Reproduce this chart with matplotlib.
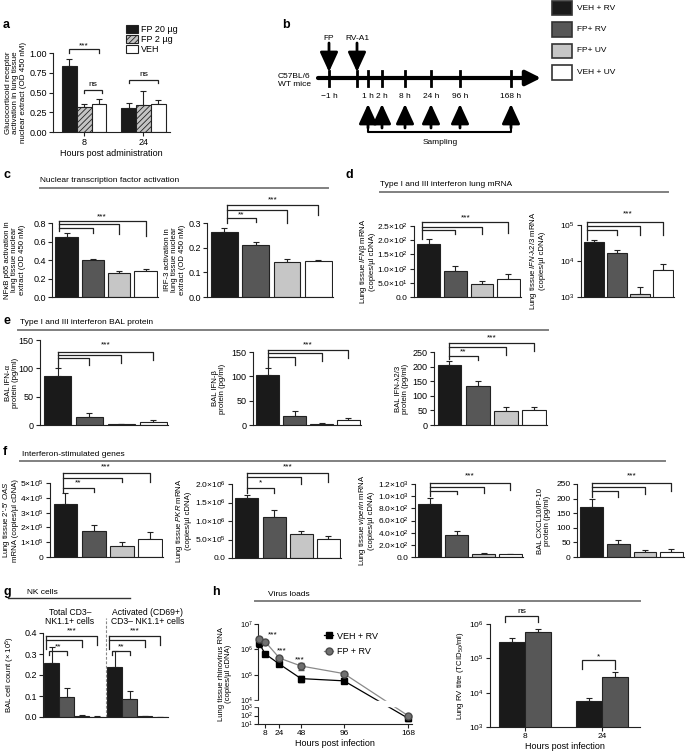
"""Multi-panel figure: glucocorticoid / interferon / virus load panels a-h."""
import numpy as np
import matplotlib
matplotlib.use("Agg")
import matplotlib.pyplot as plt
from matplotlib.lines import Line2D
from matplotlib.patches import Rectangle, Patch
from matplotlib.ticker import NullLocator

plt.rcParams["font.family"] = ["Liberation Sans", "DejaVu Sans"]
plt.rcParams["mathtext.fontset"] = "custom"
plt.rcParams["mathtext.rm"] = "Liberation Sans"
plt.rcParams["mathtext.it"] = "Liberation Sans:italic"
plt.rcParams["mathtext.bf"] = "Liberation Sans:bold"
plt.rcParams["hatch.linewidth"] = 0.6

# ---------------- data ----------------
A_HOURS = ["8", "24"]
A_TREAT = ["FP 20 µg", "FP 2 µg", "VEH"]
A_FP20 = [0.83, 0.30]
A_FP20_SEM = [0.10, 0.07]
A_FP2 = [0.32, 0.34]
A_FP2_SEM = [0.04, 0.18]
A_VEH = [0.35, 0.35]
A_VEH_SEM = [0.07, 0.06]

GROUPS = ["VEH + RV", "FP+ RV", "FP+ UV", "VEH + UV"]
TIMELINE = ["\u22121 h", "1 h", "2 h", "8 h", "24 h", "96 h", "168 h"]

NFKB = [0.65, 0.40, 0.26, 0.28]
NFKB_SEM = [0.04, 0.01, 0.02, 0.02]
IRF3 = [0.265, 0.21, 0.143, 0.145]
IRF3_SEM = [0.014, 0.015, 0.010, 0.007]
IFNB_MRNA = [185, 91, 46, 65]
IFNB_MRNA_SEM = [20, 19, 10, 15]
IFNL_MRNA = [3.3e4, 1.65e4, 1.2e3, 5.5e3]
IFNL_MRNA_SEM = [0.5e4, 0.4e4, 0.65e3, 2.7e3]
IFNA_BAL = [87, 15, 1.8, 4.5]
IFNA_BAL_SEM = [14, 6, 0.6, 4]
IFNB_BAL = [102, 19, 2.5, 10]
IFNB_BAL_SEM = [16, 10, 1.5, 4]
IFNL_BAL = [206, 134, 49, 52]
IFNL_BAL_SEM = [14, 16, 12, 11]
OAS = [3.55e5, 1.77e5, 0.74e5, 1.2e5]
OAS_SEM = [0.8e5, 0.4e5, 0.3e5, 0.5e5]
PKR = [1.61e6, 1.12e6, 0.66e6, 0.52e6]
PKR_SEM = [0.09e6, 0.17e6, 0.07e6, 0.08e6]
VIPERIN = [875, 365, 55, 42]
VIPERIN_SEM = [100, 60, 18, 10]
CXCL10 = [172, 46, 18, 17]
CXCL10_SEM = [27, 12, 7, 11]
NK_TOTAL = [0.255, 0.095, 0.007, 0.002]
NK_TOTAL_SEM = [0.08, 0.042, 0.004, 0.001]
NK_ACT = [0.238, 0.085, 0.005, 0.001]
NK_ACT_SEM = [0.077, 0.040, 0.002, 0.001]

H_TIME = [1, 8, 24, 48, 96, 168]
VIRUS_VEH = [1.8e6, 6.6e5, 2.6e5, 7.0e4, 5.7e4, 45]
VIRUS_VEH_SEM = [6e5, 6e4, 3e4, 2e4, 5e3, 20]
VIRUS_FP = [2.5e6, 2.0e6, 4.5e5, 2.2e5, 1.1e5, 90]
VIRUS_FP_SEM = [7e5, 2e5, 5e4, 7e4, 1.5e4, 15]
TITRE_HOURS = ["8", "24"]
TITRE_VEH = [3.0e5, 5.7e3]
TITRE_VEH_SEM = [0.8e5, 1.5e3]
TITRE_FP = [5.7e5, 2.9e4]
TITRE_FP_SEM = [1.3e5, 1.0e4]

COLS = ["#1a1a1a", "#575757", "#c6c6c6", "#ffffff"]
EDGE = "#222222"

W, H = 688, 754
fig = plt.figure(figsize=(W / 100, H / 100), dpi=100)


def axpx(l, t, r, b):
    ax = fig.add_axes([l / W, 1 - b / H, (r - l) / W, (b - t) / H])
    ax._px = (l, r)
    return ax


def ftext(x, y, s, **kw):
    kw.setdefault("fontsize", 6)
    kw.setdefault("va", "center")
    fig.text(x / W, 1 - y / H, s, **kw)


def hline(x0, x1, y, color="#808080", lw=1.4):
    fig.add_artist(Line2D([x0 / W, x1 / W], [1 - y / H] * 2, color=color, lw=lw))


def ylab(ax, text, xpx, size=5.6):
    """y label whose text block is centred on pixel column xpx."""
    ax.set_ylabel(text, fontsize=size, linespacing=1.15, va="center")
    l, r = ax._px
    ax.yaxis.set_label_coords((xpx - l) / (r - l), 0.5)


def style(ax, xticks=False, tsize=6.5):
    for s in ["top", "right"]:
        ax.spines[s].set_visible(False)
    for s in ["left", "bottom"]:
        ax.spines[s].set_linewidth(0.8)
        ax.spines[s].set_color(EDGE)
    ax.tick_params(direction="out", length=3, width=0.8, labelsize=tsize, pad=1.5,
                   color=EDGE)
    if not xticks:
        ax.tick_params(axis="x", bottom=False, labelbottom=False)
    ax.patch.set_alpha(0)


def bars4(ax, vals, sem, x0=0.0, width=0.85, lw=0.8):
    x = np.arange(len(vals)) + x0
    ax.bar(x, vals, width=width, color=COLS, edgecolor=EDGE, linewidth=lw, zorder=2)
    ax.errorbar(x, vals, yerr=[np.zeros(len(vals)), sem], fmt="none", ecolor=EDGE,
                elinewidth=0.8, capsize=2.5, capthick=0.8, zorder=1)


def bracket(ax, xa, xb, y, ya, yb, lw=0.9):
    ax.plot([xa, xa, xb, xb], [ya, y, y, yb], color=EDGE, lw=lw, clip_on=False,
            solid_joinstyle="miter")


def stars(ax, x, y, s):
    ax.text(x, y, s, ha="center", va="center", fontsize=6, clip_on=False)


def fan(ax, xo, ybase, items, star_y, star_txt="***", star_x=None):
    """Brackets from one origin bar to several others (GraphPad style)."""
    top = max(it[1] for it in items)
    ax.plot([xo, xo], [ybase, top], color=EDGE, lw=0.9, clip_on=False)
    for tgt, y, tip in items:
        ax.plot([xo, tgt, tgt], [y, y, tip], color=EDGE, lw=0.9, clip_on=False)
    far = max(it[0] for it in items)
    stars(ax, (xo + far) / 2 if star_x is None else star_x, star_y, star_txt)


def setup4(ax, ticks, labels, ylabel, xlab, log=False, tsize=6.5):
    style(ax, tsize=tsize)
    if log:
        ax.set_yscale("log")
        ax.yaxis.set_minor_locator(NullLocator())
    ax.set_ylim(ticks[0], ticks[-1])
    ax.set_yticks(ticks, labels)
    ax.set_xlim(-0.55, 3.47)
    ylab(ax, ylabel, xlab)


# ---------------- panel a ----------------
ax = axpx(53, 53, 170, 132)
style(ax, xticks=True)
xa = np.array([0, 4])
ax.bar(xa, A_FP20, width=1, color="#1a1a1a", edgecolor=EDGE, lw=0.8, zorder=2)
ax.bar(xa + 1, A_FP2, width=1, color="#c4c4c4", edgecolor=EDGE, hatch="//////",
       lw=0.8, zorder=2)
ax.bar(xa + 2, A_VEH, width=1, color="white", edgecolor=EDGE, lw=0.8, zorder=2)
for off, m, s in [(0, A_FP20, A_FP20_SEM), (1, A_FP2, A_FP2_SEM), (2, A_VEH, A_VEH_SEM)]:
    ax.errorbar(xa + off, m, yerr=[np.zeros(2), s], fmt="none", ecolor=EDGE,
                elinewidth=0.8, capsize=2.5, capthick=0.8, zorder=1)
ax.set_xlim(-1.1, 6.8)
ax.set_ylim(0, 1)
ax.set_yticks([0, 0.25, 0.5, 0.75, 1.0], ["0.00", "0.25", "0.50", "0.75", "1.00"])
ax.set_xticks(xa + 1, A_HOURS)
ax.set_xlabel("Hours post administration", fontsize=6.5, labelpad=1)
ylab(ax, "Glucocorticoid receptor\nactivation in lung tissue\nnuclear extract (OD 450 nM)",
     16, size=5.8)
bracket(ax, 0, 2, 1.05, 1.0, 1.0)
stars(ax, 1, 1.09, "***")
bracket(ax, 1, 2.2, 0.53, 0.49, 0.49)
stars(ax, 1.6, 0.6, "ns")
bracket(ax, 4, 6, 0.66, 0.62, 0.62)
stars(ax, 5, 0.73, "ns")
hand = [Patch(fc="#1a1a1a", ec=EDGE, lw=0.8),
        Patch(fc="#c4c4c4", ec=EDGE, hatch="//////", lw=0.8),
        Patch(fc="white", ec=EDGE, lw=0.8)]
ax.legend(hand, A_TREAT, loc="upper left", bbox_to_anchor=(126 / W, 1 - 25 / H),
          bbox_transform=fig.transFigure, frameon=False, fontsize=6.5,
          handlelength=1.3, handleheight=0.9, labelspacing=0.12, handletextpad=0.4,
          borderpad=0, borderaxespad=0)
ftext(3, 25, "a", fontsize=9, fontweight="bold")

# ---------------- panel b ----------------
bx = axpx(240, 0, 688, 160)
bx.set_xlim(240, 688)
bx.set_ylim(160, 0)
bx.axis("off")
tl_x = [329, 368, 382, 405, 431, 460, 511]
bx.annotate("", xy=(541, 78), xytext=(318, 78),
            arrowprops=dict(arrowstyle="-|>,head_length=0.9,head_width=0.45",
                            lw=3, color="black", mutation_scale=10, shrinkA=0, shrinkB=0))
for x in tl_x + [357]:
    bx.plot([x, x], [71, 86], color="black", lw=2)
for x, lab in zip(tl_x, TIMELINE):
    bx.text(x, 97, lab, ha="center", va="center", fontsize=6)
for x, lab in [(329, "FP"), (357, "RV-A1")]:
    bx.text(x, 38, lab, ha="center", va="center", fontsize=6)
    bx.annotate("", xy=(x, 72), xytext=(x, 43),
                arrowprops=dict(arrowstyle="-|>,head_length=1.2,head_width=0.55",
                                lw=2, color="black", mutation_scale=10,
                                shrinkA=0, shrinkB=0))
for x in tl_x[1:]:
    bx.annotate("", xy=(x, 104), xytext=(x, 128),
                arrowprops=dict(arrowstyle="-|>,head_length=1.2,head_width=0.55",
                                lw=2, color="black", mutation_scale=10,
                                shrinkA=0, shrinkB=0))
bx.plot([368, 368, 511, 511], [122, 132, 132, 122], color="black", lw=1.5)
bx.text(440, 143, "Sampling", ha="center", va="center", fontsize=6)
bx.text(278, 80, "C57BL/6\nWT mice", ha="left", va="center", fontsize=6,
        linespacing=1.2)
for i, (lab, col) in enumerate(zip(GROUPS, COLS)):
    bx.add_patch(Rectangle((552, 0.5 + i * 21.5), 20, 14.5, fc=col, ec="#333333", lw=1.2))
    bx.text(577, 8 + i * 21.5, lab, ha="left", va="center", fontsize=6)
ftext(282, 25, "b", fontsize=9, fontweight="bold")

# ---------------- panel c ----------------
ftext(3, 175, "c", fontsize=9, fontweight="bold")
ftext(40, 181, "Nuclear transcription factor activation")
hline(40, 328, 188)

ax = axpx(52, 223, 158, 297)
bars4(ax, NFKB, NFKB_SEM)
setup4(ax, [0, 0.2, 0.4, 0.6, 0.8], ["0.0", "0.2", "0.4", "0.6", "0.8"],
       "NF\u03baB p65 activation in\nlung tissue nuclear\nextract (OD 450 nM)", 15)
fan(ax, -0.3, 0.71, [(1, 0.75, 0.69), (2, 0.79, 0.68), (3, 0.82, 0.66)], 0.87)

ax = axpx(207, 223, 333, 297)
bars4(ax, IRF3, IRF3_SEM)
setup4(ax, [0, 0.1, 0.2, 0.3], ["0.0", "0.1", "0.2", "0.3"],
       "IRF-3 activation in\nlung tissue nuclear\nextract (OD 450 nM)", 175)
fan(ax, 0.1, 0.30, [(2, 0.353, 0.30), (3, 0.373, 0.333)], 0.395)
ax.plot([0.1, 1, 1], [0.32, 0.32, 0.305], color=EDGE, lw=0.9, clip_on=False)
stars(ax, 0.55, 0.333, "**")

# ---------------- panel d ----------------
ftext(346, 175, "d", fontsize=9, fontweight="bold")
ftext(380, 184, "Type I and III interferon lung mRNA")
hline(380, 668, 192)

ax = axpx(414, 226, 521, 297)
bars4(ax, IFNB_MRNA, IFNB_MRNA_SEM)
setup4(ax, [0, 50, 100, 150, 200, 250],
       ["0.0", "5.0\u00d710$^{1}$", "1.0\u00d710$^{2}$", "1.5\u00d710$^{2}$",
        "2.0\u00d710$^{2}$", "2.5\u00d710$^{2}$"],
       "Lung tissue $\\mathit{IFN}$\u03b2 mRNA\n(copies/\u00b5l cDNA)", 367, tsize=6)
fan(ax, -0.25, 205, [(1, 236, 222), (2, 246, 222), (3, 264, 224)], 280, star_x=1.4)

ax = axpx(581, 225, 674, 297)
bars4(ax, IFNL_MRNA, IFNL_MRNA_SEM)
setup4(ax, [1e3, 1e4, 1e5], ["10$^{3}$", "10$^{4}$", "10$^{5}$"],
       "Lung tissue $\\mathit{IFN}$-\u03bb2/3 mRNA\n(copies/\u00b5l cDNA)", 537,
       log=True, tsize=6)
fan(ax, -0.3, 3.9e4, [(1, 7.3e4, 5.3e4), (2, 9.4e4, 5.3e4), (3, 1.21e5, 5.3e4)],
    2.1e5, star_x=1.45)

# ---------------- panel e ----------------
ftext(3, 321, "e", fontsize=9, fontweight="bold")
ftext(20, 323, "Type I and III interferon BAL protein")
hline(18, 548, 330)

ax = axpx(40, 340, 168, 425)
bars4(ax, IFNA_BAL, IFNA_BAL_SEM)
setup4(ax, [0, 50, 100, 150], ["0", "50", "100", "150"],
       "BAL IFN-\u03b1\nprotein (pg/ml)", 12)
fan(ax, 0, 103, [(1, 118, 106), (2, 123.5, 110), (3, 129, 115)], 141)

ax = axpx(253, 352, 361, 425)
bars4(ax, IFNB_BAL, IFNB_BAL_SEM)
setup4(ax, [0, 50, 100, 150], ["0", "50", "100", "150"],
       "BAL IFN-\u03b2\nprotein (pg/ml)", 219)
fan(ax, 0, 120, [(1, 140, 124), (2, 148, 131), (3, 154, 138)], 165)

ax = axpx(434, 352, 547, 425)
bars4(ax, IFNL_BAL, IFNL_BAL_SEM)
setup4(ax, [0, 50, 100, 150, 200, 250], ["0", "50", "100", "150", "200", "250"],
       "BAL IFN-\u03bb2/3\nprotein (pg/ml)", 402)
fan(ax, 0, 225, [(2, 267, 240), (3, 281, 254)], 297)
ax.plot([0, 1, 1], [236, 236, 222], color=EDGE, lw=0.9, clip_on=False)
stars(ax, 0.5, 250, "**")

# ---------------- panel f ----------------
ftext(3, 452, "f", fontsize=9, fontweight="bold")
ftext(22, 454, "Interferon-stimulated genes")
hline(20, 665, 461)

ax = axpx(50, 483, 163, 557)
bars4(ax, OAS, OAS_SEM)
setup4(ax, [0, 1e5, 2e5, 3e5, 4e5, 5e5],
       ["0", "1\u00d710$^{5}$", "2\u00d710$^{5}$", "3\u00d710$^{5}$", "4\u00d710$^{5}$",
        "5\u00d710$^{5}$"],
       "Lung tissue 2'-5' $\\mathit{OAS}$\nmRNA (copies/\u00b5l cDNA)", 10, tsize=6)
fan(ax, -0.1, 4.4e5, [(2, 5.34e5, 5.1e5), (3, 5.67e5, 5.1e5)], 6.1e5)
ax.plot([-0.1, 1, 1], [4.66e5, 4.66e5, 4.4e5], color=EDGE, lw=0.9, clip_on=False)
stars(ax, 0.45, 5.0e5, "**")

ax = axpx(232, 484, 341, 558)
bars4(ax, PKR, PKR_SEM)
setup4(ax, [0, 5e5, 1e6, 1.5e6, 2e6],
       ["0.0", "5.0\u00d710$^{5}$", "1.0\u00d710$^{6}$", "1.5\u00d710$^{6}$",
        "2.0\u00d710$^{6}$"],
       "Lung tissue $\\mathit{PKR}$ mRNA\n(copies/\u00b5l cDNA)", 183, tsize=6)
fan(ax, 0, 1.76e6, [(2, 2.19e6, 2.0e6), (3, 2.30e6, 2.05e6)], 2.46e6)
ax.plot([0, 1, 1], [1.89e6, 1.89e6, 1.76e6], color=EDGE, lw=0.9, clip_on=False)
stars(ax, 0.5, 2.03e6, "*")

ax = axpx(415, 484, 523, 557)
bars4(ax, VIPERIN, VIPERIN_SEM)
setup4(ax, [0, 200, 400, 600, 800, 1000, 1200],
       ["0.0", "2.0\u00d710$^{2}$", "4.0\u00d710$^{2}$", "6.0\u00d710$^{2}$",
        "8.0\u00d710$^{2}$", "1.0\u00d710$^{3}$", "1.2\u00d710$^{3}$"],
       "Lung tissue $\\mathit{viperin}$ mRNA\n(copies/\u00b5l cDNA)", 366, tsize=6)
fan(ax, 0, 1000, [(1, 1085, 1030), (2, 1150, 1060), (3, 1216, 1100)], 1330)

ax = axpx(577, 484, 684, 557)
bars4(ax, CXCL10, CXCL10_SEM)
setup4(ax, [0, 50, 100, 150, 200, 250], ["0", "50", "100", "150", "200", "250"],
       "BAL CXCL10/IP-10\nprotein (pg/ml)", 544, tsize=6)
fan(ax, 0, 205, [(1, 226, 205), (2, 240, 215), (3, 253, 226)], 277)

# ---------------- panel g ----------------
ftext(3, 592, "g", fontsize=9, fontweight="bold")
ftext(27, 593, "NK cells")
hline(8, 130, 598, color="#333333", lw=1.0)

ax = axpx(43, 633, 168, 717)
bars4(ax, NK_TOTAL, NK_TOTAL_SEM, x0=0, width=1.0)
bars4(ax, NK_ACT, NK_ACT_SEM, x0=4.2, width=1.0)
style(ax)
ax.set_xlim(-0.6, 7.75)
ax.set_ylim(0, 0.4)
ax.set_yticks([0, 0.1, 0.2, 0.3, 0.4], ["0.0", "0.1", "0.2", "0.3", "0.4"])
ylab(ax, "BAL cell count (\u00d7 10$^{5}$)", 10)
ax.plot([3.6, 3.6], [0, 0.47], ls=(0, (2.5, 1.5)), color="#888888", lw=0.8, clip_on=False)
for g0 in [0, 4.2]:
    fan(ax, g0 - 0.4, 0.324, [(g0 + 2, 0.367, 0.333), (g0 + 3, 0.386, 0.343)], 0.408)
    bracket(ax, g0 - 0.2, g0 + 1, 0.314, 0.295, 0.295)
    stars(ax, g0 + 0.4, 0.333, "**")
ftext(70, 617, "Total CD3\u2013\nNK1.1+ cells", ha="center", fontsize=6.2,
      linespacing=1.1)
ftext(148, 617, "Activated (CD69+)\nCD3\u2013 NK1.1+ cells", ha="center", fontsize=6.2,
      linespacing=1.1)

# ---------------- panel h ----------------
ftext(212, 592, "h", fontsize=9, fontweight="bold")
ftext(268, 594, "Virus loads")
hline(255, 640, 601)

LXP = [-3, 1, 3, 4, 7, 11]
LFP = [-34, 0, 17, 24, 100, 201.2]


def fwd(v):
    return np.interp(np.log10(np.clip(v, 1e-3, None)), LXP, LFP)


def inv(u):
    return 10 ** np.interp(u, LFP, LXP)


ax = axpx(258, 624, 412, 724)
style(ax, xticks=True, tsize=6)
ax.tick_params(axis="y", labelsize=5.2, pad=1)
ax.set_yscale("function", functions=(fwd, inv))
ax.set_ylim(10, 1e7)
ax.set_xlim(0, 172)
ax.errorbar(H_TIME, VIRUS_VEH, yerr=VIRUS_VEH_SEM, color="black", lw=0.9,
            marker="s", ms=4.2, mfc="black", mec="black", capsize=2, elinewidth=0.8,
            zorder=3, clip_on=False)
ax.errorbar(H_TIME, VIRUS_FP, yerr=VIRUS_FP_SEM, color="#8a8a8a", lw=0.9,
            marker="o", ms=5, mfc="#707070", mec="#4a4a4a", capsize=2, elinewidth=0.8,
            ecolor="#555555", zorder=3, clip_on=False)
ax.set_yticks([1e1, 1e2, 1e3, 1e4, 1e5, 1e6, 1e7],
              ["10$^{1}$", "10$^{2}$", "10$^{3}$", "10$^{4}$", "10$^{5}$",
               "10$^{6}$", "10$^{7}$"])
ax.yaxis.set_minor_locator(NullLocator())
ax.set_xticks([8, 24, 48, 96, 168])
ax.set_xlabel("Hours post infection", fontsize=6.5, labelpad=1)
ylab(ax, "Lung tissue rhinovirus RNA\n(copies/\u00b5l cDNA)", 225)
band = ax.axhspan(10 ** 3.2, 10 ** 3.8, xmin=-0.04, xmax=1, color="white", zorder=6)
band.set_clip_on(False)
for t, y in [(17, 3.6e6), (27, 8.5e5), (47, 3.8e5)]:
    stars(ax, t, y, "***")
h_hand = [Line2D([], [], color="black", lw=0.9, marker="s", ms=4.2),
          Line2D([], [], color="#8a8a8a", lw=0.9, marker="o", ms=5, mfc="#707070",
                 mec="#4a4a4a")]
ax.legend(h_hand, ["VEH + RV", "FP + RV"], loc="upper left", bbox_to_anchor=(0.4, 0.97),
          frameon=False, fontsize=6.5, handlelength=1.0, handletextpad=0.4,
          labelspacing=0.7, borderpad=0)

ax = axpx(490, 624, 640, 727)
style(ax, xticks=True, tsize=6)
ax.set_yscale("log")
xt = np.array([0, 3])
ax.bar(xt, TITRE_VEH, width=1, color=COLS[0], edgecolor=EDGE, lw=0.8, zorder=2)
ax.bar(xt + 1, TITRE_FP, width=1, color=COLS[1], edgecolor=EDGE, lw=0.8, zorder=2)
ax.errorbar(xt, TITRE_VEH, yerr=[np.zeros(2), TITRE_VEH_SEM], fmt="none", ecolor=EDGE,
            elinewidth=0.8, capsize=2.5, capthick=0.8, zorder=1)
ax.errorbar(xt + 1, TITRE_FP, yerr=[np.zeros(2), TITRE_FP_SEM], fmt="none", ecolor=EDGE,
            elinewidth=0.8, capsize=2.5, capthick=0.8, zorder=1)
ax.set_ylim(1e3, 1e6)
ax.yaxis.set_minor_locator(NullLocator())
ax.set_yticks([1e3, 1e4, 1e5, 1e6], ["10$^{3}$", "10$^{4}$", "10$^{5}$", "10$^{6}$"])
ax.set_xlim(-0.85, 4.96)
ax.set_xticks(xt + 0.5, TITRE_HOURS)
ax.set_xlabel("Hours post infection", fontsize=6.5, labelpad=1)
ylab(ax, "Lung RV titre (TCID$_{50}$/ml)", 460)
bracket(ax, -0.25, 1.0, 1.7e6, 1.15e6, 1.15e6)
stars(ax, 0.4, 2.3e6, "ns")
bracket(ax, 2.73, 4.0, 8.7e4, 5.0e4, 5.0e4)
stars(ax, 3.37, 1.1e5, "*")

fig.savefig("out.png", dpi=100, facecolor="white")
print("written out.png")
